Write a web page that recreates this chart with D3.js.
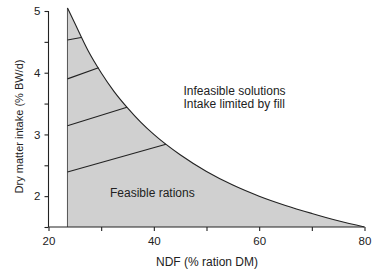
<!DOCTYPE html>
<html>
<head>
<meta charset="utf-8">
<script src="https://cdn.jsdelivr.net/npm/d3@7"></script>
<style>
  html, body { margin: 0; padding: 0; background: #fff; }
  svg { display: block; font-family: "Liberation Sans", Arial, sans-serif; }
</style>
</head>
<body>
<svg id="chart" width="390" height="277"></svg>
<script>
// Fill-limit boundary curve (NDF %, DMI % BW/d)
const curveNDF = [23.6, 25, 27.5, 30, 32.5, 35, 37.5, 40, 45, 50, 55, 60, 65, 70, 75, 80];
const curveDMI = [5.05, 4.8, 4.36, 4.0, 3.69, 3.43, 3.2, 3.0, 2.67, 2.4, 2.18, 2.0, 1.85, 1.72, 1.6, 1.5];
// Minimum NDF boundary
const minNDF = 23.6;
// Lines inside the feasible region: start DMI at minNDF, end point on curve
const lineStartDMI = [4.53, 3.90, 3.14, 2.39];
const lineEndNDF   = [26.2, 29.5, 34.9, 42.3];
const lineEndDMI   = [4.57, 4.08, 3.44, 2.84];
// Axes
const xTicks = [20, 30, 40, 50, 60, 70, 80];
const xTickLabels = ["20", "", "40", "", "60", "", "80"];
const yTicks = [1.5, 2, 2.5, 3, 3.5, 4, 4.5, 5];
const yTickLabels = ["", "2", "", "3", "", "4", "", "5"];
const xTitle = "NDF (% ration DM)";
const yTitle = "Dry matter intake (% BW/d)";
const noteTexts = ["Infeasible solutions", "Intake limited by fill", "Feasible rations"];

const svg = d3.select("#chart");
const x = d3.scaleLinear().domain([20, 80]).range([48.5, 364.5]);
const y = d3.scaleLinear().domain([1.5, 5]).range([227, 11]);

const pts = curveNDF.map((n, i) => [n, curveDMI[i]]);
const line = d3.line().x(d => x(d[0])).y(d => y(d[1])).curve(d3.curveMonotoneX);
const curvePath = line(pts);

// Feasible region
svg.append("path")
  .attr("d", `M${x(minNDF)},${y(1.5)}L${curvePath.slice(1)}L${x(80)},${y(1.5)}Z`)
  .attr("fill", "#d0d0d0")
  .attr("stroke", "none");

// Left boundary
svg.append("line")
  .attr("x1", x(minNDF)).attr("x2", x(minNDF))
  .attr("y1", y(1.5)).attr("y2", y(curveDMI[0]))
  .attr("stroke", "#555").attr("stroke-width", 1);

// Curve
svg.append("path").attr("d", curvePath)
  .attr("fill", "none").attr("stroke", "#222").attr("stroke-width", 1.1);

// Inner lines
lineStartDMI.forEach((s, i) => {
  svg.append("line")
    .attr("x1", x(minNDF)).attr("y1", y(s))
    .attr("x2", x(lineEndNDF[i])).attr("y2", y(lineEndDMI[i]))
    .attr("stroke", "#222").attr("stroke-width", 1.1);
});

// Axes
const xAxis = d3.axisBottom(x).tickValues(xTicks)
  .tickFormat((d, i) => xTickLabels[i]).tickSize(4).tickPadding(6);
const gx = svg.append("g").attr("transform", `translate(0,${y(1.5)})`).call(xAxis);
gx.select(".domain").attr("d", `M${x(20)},0H${x(80)}`);

const yAxis = d3.axisLeft(y).tickValues(yTicks)
  .tickFormat((d, i) => yTickLabels[i]).tickSize(4).tickPadding(4);
const gy = svg.append("g").attr("transform", `translate(${x(20)},0)`).call(yAxis);
gy.select(".domain").attr("d", `M0,${y(5)}V${y(1.5)}`);

[gx, gy].forEach(g => {
  g.selectAll("path, line").attr("stroke", "#222").attr("stroke-width", 1.1);
  g.selectAll("text").attr("fill", "#222").attr("font-size", 11.5)
    .attr("font-family", "'Liberation Sans', Arial, sans-serif");
});

// Titles
svg.append("text").attr("x", 207).attr("y", 266)
  .attr("text-anchor", "middle").attr("font-size", 12).attr("fill", "#222").text(xTitle);
svg.append("text")
  .attr("transform", `translate(23,${(60 + 193) / 2}) rotate(-90)`)
  .attr("text-anchor", "middle").attr("font-size", 11).attr("fill", "#222").text(yTitle);

// Annotations
const notePos = [[183.5, 95], [183.5, 107.5], [110, 197]];
noteTexts.forEach((t, i) => {
  svg.append("text").attr("x", notePos[i][0]).attr("y", notePos[i][1])
    .attr("font-size", 12).attr("fill", "#222").text(t);
});
</script>
</body>
</html>
